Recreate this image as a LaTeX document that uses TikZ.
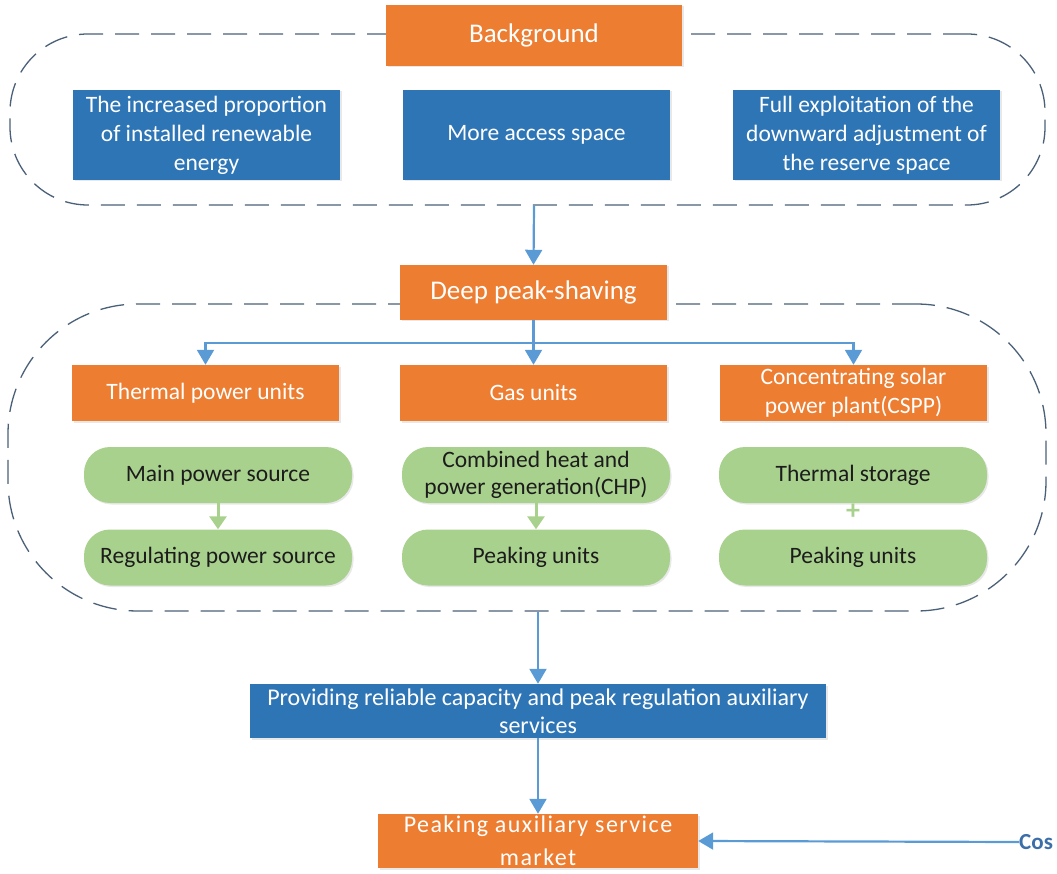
\documentclass[tikz,border=0pt]{standalone}
\usepackage{fontspec}
\setmainfont{Carlito}
\newfontfamily\spacedfont[LetterSpace=6]{Carlito}
\usetikzlibrary{arrows.meta,shadows}

\definecolor{orangebox}{HTML}{ED7D31}
\definecolor{bluebox}{HTML}{2E75B6}
\definecolor{greenbox}{HTML}{A9D18E}
\definecolor{linkblue}{HTML}{5B9BD5}
\definecolor{framegray}{HTML}{4A5F78}
\definecolor{costblue}{HTML}{3C6FA8}
\definecolor{greentext}{HTML}{1C1C1C}

\tikzset{
  basebox/.style={rectangle, inner sep=0pt, align=center,
    drop shadow={opacity=0.18, shadow xshift=1.5pt, shadow yshift=-1.5pt}},
  headbox/.style={basebox, fill=orangebox, text=white,
    font=\fontsize{27}{32}\selectfont},
  unitbox/.style={basebox, fill=orangebox, text=white, minimum width=267pt, minimum height=56pt,
    font=\fontsize{23.5}{29}\selectfont},
  infobox/.style={basebox, fill=bluebox, text=white, minimum width=267pt, minimum height=90pt,
    font=\fontsize{23.5}{29}\selectfont},
  rolebox/.style={basebox, fill=greenbox, text=greentext, rounded corners=26pt,
    minimum width=268pt, minimum height=56pt,
    font=\fontsize{23.5}{27}\selectfont},
  frame/.style={draw=framegray, line width=1.3pt, dash pattern=on 24pt off 12pt,
    rectangle, inner sep=0pt},
  link/.style={draw=linkblue, line width=2.2pt, -{Triangle[width=17pt,length=15pt]}},
  glink/.style={draw=greenbox, line width=3pt, -{Triangle[width=17pt,length=13pt]}},
}

\begin{document}
\begin{tikzpicture}[x=1pt,y=-1pt]
\useasboundingbox (0,0) rectangle (1057,874);

% dashed frames (drawn first so the headers sit on top)
\node[frame, rounded corners=78pt, minimum width=1035pt, minimum height=171pt]
  (bgframe) at (527.5,119.5) {};
\node[frame, rounded corners=130pt, minimum width=1038pt, minimum height=307pt]
  (dpframe) at (527,457.5) {};

% background block
\node[headbox, minimum width=296pt, minimum height=61pt] (bg) at (534,35.5) {Background};
\node[infobox] (renew) at (206.5,135) {The increased proportion\\of installed renewable\\energy};
\node[infobox] (access) at (536.5,135) {More access space};
\node[infobox] (reserve) at (866.5,135) {Full exploitation of the\\downward adjustment of\\the reserve space};

% deep peak-shaving block
\node[headbox, minimum width=267pt, minimum height=55pt] (deep) at (533.5,292.5) {Deep peak-shaving};
\node[unitbox] (thermal) at (205.5,393) {Thermal power units};
\node[unitbox] (gas) at (533.5,393) {Gas units};
\node[unitbox] (cspp) at (853.5,393) {Concentrating solar\\power plant(CSPP)};

\node[rolebox] (mainsrc) at (218,475) {Main power source};
\node[rolebox] (regsrc) at (218,557.5) {Regulating power source};
\node[rolebox] (chp) at (536,475) {Combined heat and\\power generation(CHP)};
\node[rolebox] (gaspeak) at (536,557.5) {Peaking units};
\node[rolebox] (storage) at (853,475) {Thermal storage};
\node[rolebox] (csppeak) at (853,557.5) {Peaking units};
\node[text=greenbox, inner sep=0pt, font=\fontsize{28}{28}\selectfont\bfseries]
  (plus) at (853,512) {+};

% outcome blocks
\node[basebox, fill=bluebox, text=white, minimum width=576pt, minimum height=54pt,
  font=\fontsize{24}{28}\selectfont] (provide) at (538,711)
  {Providing reliable capacity and peak regulation auxiliary\\services};
\node[basebox, fill=orangebox, text=white, minimum width=320pt, minimum height=54pt,
  font=\spacedfont\fontsize{24}{33}\selectfont] (market) at (538,841)
  {Peaking auxiliary service\\market};
\node[anchor=west, inner sep=0pt, text=costblue, font=\fontsize{23}{23}\selectfont\bfseries]
  (cost) at (1019,842) {Cos};

% connectors
\draw[link] (bg.center |- bgframe.south) -- (deep.north);
\coordinate (split) at (534,343);
\draw[link] (deep.south) -- (gas.north);
\draw[link] (split) -| (thermal.north);
\draw[link] (split) -| (cspp.north);
\draw[glink] (mainsrc.south) -- (regsrc.north);
\draw[glink] (chp.south) -- (gaspeak.north);
\draw[link] (provide.center |- dpframe.south) -- (provide.north);
\draw[link] (provide.south) -- (market.north);
\draw[link] (cost.west) -- (market.east);
\end{tikzpicture}
\end{document}
